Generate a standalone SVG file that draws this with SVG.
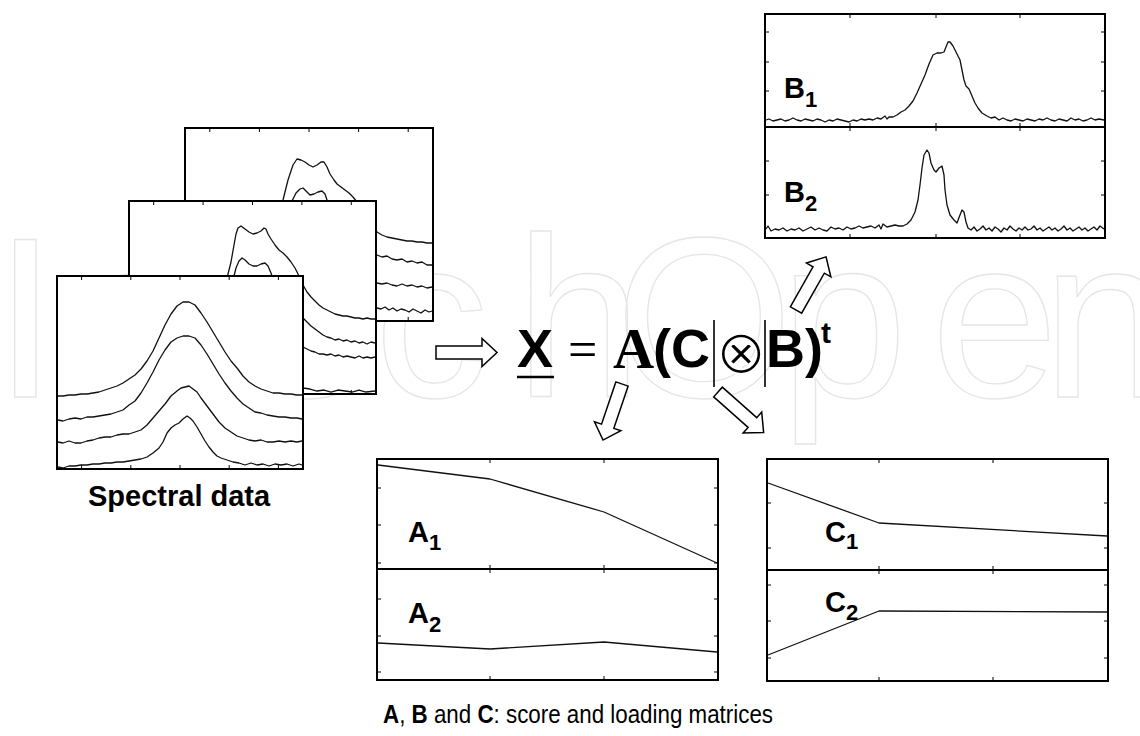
<svg xmlns="http://www.w3.org/2000/svg" width="1140" height="736" viewBox="0 0 1140 736">
<style>
.frame{fill:#fff;stroke:#000;stroke-width:2}
.curve{fill:none;stroke:#111;stroke-width:1.3;stroke-linejoin:round}
.tick{fill:none;stroke:#000;stroke-width:1}
.sans{font-family:"Liberation Sans",Arial,sans-serif;font-weight:bold;fill:#000}
.arrow{fill:#fff;stroke:#000;stroke-width:1.5;stroke-linejoin:miter}
.wm{font-family:"Liberation Sans",Arial,sans-serif;font-size:229px;fill:none;stroke:#e6e6e6;stroke-width:1.3}
</style>
<defs>
<polygon id="harrow" class="arrow" points="0,-6.5 46,-6.5 46,-14 61,0 46,14 46,6.5 0,6.5"/>
</defs>
<rect width="1140" height="736" fill="#fff"/>
<g id="watermark">
<text class="wm" x="-6.5 60 185 245 374 515 615 780 931 1042" y="397">IntechOpen</text>
</g>
<g id="spectra-back">
<rect class="frame" x="185" y="128" width="248" height="193"/>
<path class="tick" d="M209.8 128v4M259.4 128v4M309 128v4M358.6 128v4M408.2 128v4M209.8 321v-4M259.4 321v-4M309 321v-4M358.6 321v-4M408.2 321v-4"/>
<polyline class="curve" points="185,245 230,243 260,238 275,225 283,200 288,180 293,165 297,159 301,160 305,162 309,165 313,167 317,165 321,162 324,162 327,167 330,174 334,180 337,184 341,187 345,190 349,193 353,197 357,202 362,210 367,218 372,226 377,232 382,235 387,237 392,238 397,239 402,240 407,241 412,241 417,242 422,242 427,243 432,243"/>
<polyline class="curve" points="185,267 260,262 280,240 288,215 292,201 296,193 300,189 303,188 306,191 310,195 314,194 318,192 322,191 325,194 327,200 330,210 335,225 340,235 348,243 356,248 364,252 372,254 377,255 382,257 387,256 392,259 397,260 402,259 407,262 412,261 417,263 422,262 427,265 432,265"/>
<polyline class="curve" points="185,290 270,285 295,250 305,240 315,245 325,242 340,265 360,278 377,283 382,284 387,283 392,285 397,286 402,284 407,286 412,285 417,287 422,286 427,288 432,287"/>
<polyline class="curve" points="185,314 280,310 300,285 310,280 320,283 335,298 360,306 377,308 381,309 385,307 389,310 393,308 397,311 401,309 405,310 409,312 413,309 417,311 421,313 425,310 429,312 432,311"/>
</g>
<g id="spectra-middle">
<rect class="frame" x="129" y="201" width="247" height="193"/>
<path class="tick" d="M153.7 201v4M203.1 201v4M252.5 201v4M301.9 201v4M351.3 201v4M153.7 394v-4M203.1 394v-4M252.5 394v-4M301.9 394v-4M351.3 394v-4"/>
<polyline class="curve" points="130,322 150,322 170,320 190,318 205,313 215,305 222,292 227,278 231,262 234,245 236,234 238,228 241,226 245,229 249,232 253,234 257,233 261,231 264,228 266,229 268,234 271,239 275,245 279,250 283,253 287,257 291,262 295,268 299,276 303,285 307,292 311,297 315,301 319,305 323,308 327,310 331,312 335,314 339,315 343,316 347,316 351,317 355,318 359,318 363,319 367,318 371,319 375,319"/>
<polyline class="curve" points="130,345 200,340 225,330 230,300 233,280 236,268 239,261 242,258 245,260 249,264 253,266 257,266 261,264 265,263 268,266 271,273 274,282 278,292 283,300 288,306 293,310 298,314 303,318 307,322 311,326 315,329 319,332 323,335 327,337 331,338 335,340 339,339 343,341 347,340 351,342 355,341 359,343 363,342 367,344 371,342 375,343"/>
<polyline class="curve" points="130,367 200,362 225,340 240,300 250,305 265,300 285,330 303,347 307,349 311,351 315,352 319,354 323,354 327,355 331,354 335,356 339,355 343,357 347,356 351,357 355,358 359,356 363,358 367,357 371,358 375,357"/>
<polyline class="curve" points="130,392 220,385 240,330 255,335 268,332 290,375 303,388 310,389 317,391 324,390 331,392 338,390 345,391 352,392 359,390 366,392 375,391"/>
</g>
<g id="spectra-front">
<rect class="frame" x="57" y="276" width="246" height="193"/>
<path class="tick" d="M81.6 276v4M130.8 276v4M180 276v4M229.2 276v4M278.4 276v4M81.6 469v-4M130.8 469v-4M180 469v-4M229.2 469v-4M278.4 469v-4"/>
<polyline class="curve" points="58,396 63,396 69,395 75,395 81,394 87,394 93,393 99,392 105,390 111,388 117,386 123,383 129,379 135,375 141,369 147,361 153,351 159,338 165,325 171,314 177,306 183,302 189,302 195,305 201,313 207,322 213,332 219,342 225,352 231,361 237,368 243,376 249,382 255,386 261,389 267,391 273,393 279,393 285,394 291,394 297,395 302,395"/>
<polyline class="curve" points="58,420 63,421 69,419 75,418 81,419 87,417 93,417 99,416 105,415 111,414 117,412 123,410 129,405 135,401 141,393 147,383 153,372 159,360 165,350 171,342 177,338 183,336 189,336 195,338 201,345 207,354 213,364 219,374 225,383 231,391 237,398 243,404 249,408 255,412 261,413 267,415 273,416 279,417 285,417 291,418 297,418 302,419"/>
<polyline class="curve" points="58,442 63,443 69,441 75,443 81,443 87,441 93,440 99,438 105,437 111,437 117,435 123,434 129,434 135,432 141,430 147,425 153,418 159,411 165,404 171,396 177,391 181,388 185,387 189,386 193,389 197,392 201,398 207,406 213,414 219,422 225,428 231,432 237,436 243,438 249,440 255,441 261,440 267,442 273,442 279,441 285,442 291,441 297,442 302,441"/>
<polyline class="curve" points="58,467 63,468 69,466 75,466 81,465 87,465 93,464 99,464 105,463 111,463 117,462 123,462 129,461 135,460 141,459 147,457 153,453 159,448 163,442 167,433 171,428 175,425 179,423 183,419 187,416 190,418 193,421 197,427 201,434 205,441 209,447 213,452 217,456 221,458 227,460 233,462 239,463 245,465 251,463 257,465 263,464 269,466 275,464 281,465 287,464 293,466 299,464 302,465"/>
</g>
<g id="spectral-label">
<text class="sans" x="88" y="506" font-size="29">Spectral data</text>
</g>
<g id="equation">
<text class="sans" x="517" y="367" font-size="54">X</text>
<line x1="517" y1="377" x2="554" y2="377" stroke="#000" stroke-width="2.5"/>
<text x="568" y="367" font-family="'Liberation Serif','Times New Roman',serif" font-size="52" fill="#000">=</text>
<text x="613" y="368" font-family="'Liberation Serif','Times New Roman',serif" font-weight="bold" font-size="57" fill="#000">A</text>
<text class="sans" x="653" y="367" font-size="54">(C</text>
<line x1="714" y1="320" x2="714" y2="387" stroke="#000" stroke-width="1.6"/>
<text x="741" y="373" text-anchor="middle" font-family="'DejaVu Sans',sans-serif" font-size="61" fill="#000" stroke="#fff" stroke-width="1.8">⊗</text>
<line x1="765" y1="320" x2="765" y2="387" stroke="#000" stroke-width="1.6"/>
<text class="sans" x="766" y="367" font-size="54">B)</text>
<text class="sans" x="821" y="343" font-size="30">t</text>
</g>
<g id="connectors">
<use href="#harrow" transform="translate(436,352.5)"/>
<use href="#harrow" transform="translate(796,310) rotate(-60.5)"/>
<use href="#harrow" transform="translate(622,384) rotate(108.7) scale(0.97,1)"/>
<use href="#harrow" transform="translate(718,392) rotate(41.6)"/>
</g>
<g id="panel-B">
<rect class="frame" x="765" y="14" width="340" height="224"/>
<line x1="765" y1="127" x2="1105" y2="127" stroke="#000" stroke-width="2"/>
<path class="tick" d="M850 14v4M936 14v4M1020 14v4M850 123v8M936 123v8M1020 123v8M850 238v-4M936 238v-4M1020 238v-4M765 32h4M765 62h4M765 91h4M765 161h4M765 195h4M1105 32h-4M1105 62h-4M1105 91h-4M1105 161h-4M1105 195h-4"/>
<polyline class="curve" points="766,120 769,119 773,121 777,120 781,119 785,121 789,120 793,118 797,120 801,121 805,119 809,120 813,121 817,119 821,120 825,122 829,120 833,121 837,119 841,120 845,121 849,122 853,120 857,121 861,119 865,120 869,119 873,120 877,118 881,119 885,116 887,119 889,117 893,117 897,115 901,112 905,110 909,106 913,101 917,93 921,84 925,75 929,64 933,55 937,53 941,53 944,52 946,47 948,42 950,42 953,46 956,52 960,60 962,70 964,80 966,86 969,89 972,96 975,103 978,108 982,113 987,116 991,118 995,117 999,120 1003,118 1007,120 1011,121 1015,119 1019,120 1023,121 1027,119 1031,120 1035,121 1039,119 1043,120 1047,118 1051,120 1055,121 1059,119 1063,120 1067,121 1071,118 1075,120 1079,119 1083,121 1087,120 1091,118 1095,120 1099,119 1104,120"/>
<polyline class="curve" points="766,229 768,226 771,231 775,229 779,230 783,228 787,231 791,229 795,230 799,228 803,231 807,229 811,227 815,230 819,228 823,230 827,231 831,227 835,229 839,228 843,230 847,227 851,229 855,228 859,226 863,228 867,227 871,226 875,228 879,225 881,229 883,224 887,227 891,226 895,225 899,226 903,226 907,224 911,220 915,212 918,200 920,185 922,168 924,155 927,150 929,153 931,163 934,170 936,172 939,168 942,166 944,175 945,190 947,205 950,215 954,220 957,223 960,215 962,210 964,212 966,222 968,228 971,230 974,227 977,231 980,229 983,226 986,230 989,228 992,231 995,227 998,229 1001,232 1004,228 1007,230 1010,226 1013,229 1016,231 1019,228 1022,230 1025,227 1028,230 1031,229 1034,226 1037,230 1040,228 1043,231 1046,229 1049,227 1052,230 1055,228 1058,231 1061,229 1064,226 1067,230 1070,228 1073,231 1076,229 1079,227 1082,230 1085,228 1088,231 1091,229 1094,227 1097,230 1100,226 1104,229"/>
<text class="sans" x="784" y="98" font-size="29">B<tspan font-size="22" dy="9">1</tspan></text>
<text class="sans" x="784" y="202" font-size="29">B<tspan font-size="22" dy="9">2</tspan></text>
</g>
<g id="panel-A">
<rect class="frame" x="377" y="459" width="341" height="221"/>
<line x1="377" y1="569" x2="718" y2="569" stroke="#000" stroke-width="2"/>
<path class="tick" d="M490 459v4M604 459v4M490 565v8M604 565v8M490 680v-4M604 680v-4M377 488h4M377 525h4M377 563h4M377 599h4M377 636h4M377 672h4M718 488h-4M718 525h-4M718 563h-4M718 599h-4M718 636h-4M718 672h-4"/>
<polyline class="curve" points="378,465 490,479 604,512 717,563"/>
<polyline class="curve" points="378,643 490,649 604,642 717,652"/>
<text class="sans" x="408" y="542" font-size="29">A<tspan font-size="22" dy="8">1</tspan></text>
<text class="sans" x="408" y="623" font-size="29">A<tspan font-size="22" dy="9">2</tspan></text>
</g>
<g id="panel-C">
<rect class="frame" x="767" y="459" width="341" height="222"/>
<line x1="767" y1="570" x2="1108" y2="570" stroke="#000" stroke-width="2"/>
<path class="tick" d="M879 459v4M993 459v4M879 566v8M993 566v8M879 681v-4M993 681v-4M767 503h4M767 548h4M767 585h4M767 621h4M767 658h4M1108 503h-4M1108 548h-4M1108 585h-4M1108 621h-4M1108 658h-4"/>
<polyline class="curve" points="768,483 879,523 1107,536"/>
<polyline class="curve" points="768,655 879,611 1107,612"/>
<text class="sans" x="825" y="542" font-size="29">C<tspan font-size="22" dy="7">1</tspan></text>
<text class="sans" x="825" y="612" font-size="29">C<tspan font-size="22" dy="8">2</tspan></text>
</g>
<g id="caption">
<text x="578" y="723" text-anchor="middle" textLength="390" lengthAdjust="spacingAndGlyphs" font-family="'Liberation Sans',Arial,sans-serif" font-size="25" fill="#000"><tspan font-weight="bold">A</tspan>, <tspan font-weight="bold">B</tspan> and <tspan font-weight="bold">C</tspan>: score and loading matrices</text>
</g>
</svg>
